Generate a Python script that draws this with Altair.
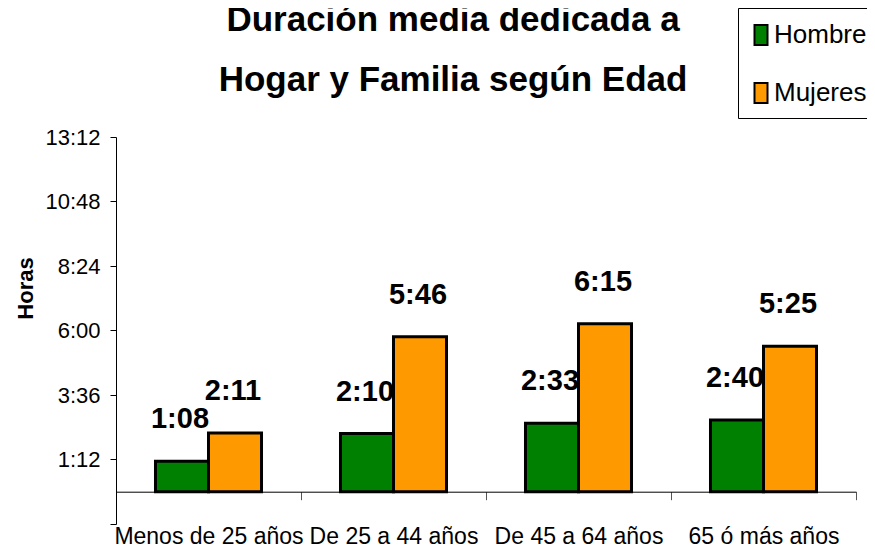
import altair as alt
import pandas as pd

categorias = ["Menos de 25 años", "De 25 a 44 años", "De 45 a 64 años", "65 ó más años"]
sexos = ["Hombres", "Mujeres"]
hombres_min = [68, 130, 153, 160]
mujeres_min = [131, 346, 375, 325]
y_ticks = [-1.2, 1.2, 3.6, 6.0, 8.4, 10.8, 13.2]
colores = ["#008000", "#FF9900"]
titulo = ["Duración media dedicada a", "Hogar y Familia según Edad"]

rows = []
for cat, h, m in zip(categorias, hombres_min, mujeres_min):
    for sexo, mins in (("Hombres", h), ("Mujeres", m)):
        rows.append({"edad": cat, "sexo": sexo, "horas": mins / 60,
                     "etiqueta": f"{mins // 60}:{mins % 60:02d}"})
df = pd.DataFrame(rows)

ARIAL = "Liberation Sans, Arial, sans-serif"

label_expr = ("datum.value < 0 ? '' : floor(datum.value) + ':' + "
              "(round((datum.value - floor(datum.value)) * 60) < 10 ? '0' : '') + "
              "round((datum.value - floor(datum.value)) * 60)")

base = alt.Chart(df).encode(
    x=alt.X("edad:N", sort=categorias, title=None,
            scale=alt.Scale(paddingInner=0, paddingOuter=0),
            axis=alt.Axis(orient="bottom", offset=-32.3, tickBand="extent", tickSize=8,
                          domainColor="black", tickColor="#555555", labelAngle=0,
                          labelFont=ARIAL, labelFontSize=23, labelColor="black",
                          labelPadding=26, labelLimit=0, grid=False)),
    xOffset=alt.XOffset("sexo:N", sort=sexos,
                        scale=alt.Scale(paddingInner=0, paddingOuter=0.745)),
    y=alt.Y("horas:Q", title="Horas",
            scale=alt.Scale(domain=[-1.2, 13.2], nice=False, zero=False),
            axis=alt.Axis(values=y_ticks, labelExpr=label_expr, grid=False,
                          domainColor="black", tickColor="black", tickSize=6,
                          labelFont=ARIAL, labelFontSize=22, labelColor="black",
                          labelPadding=10, titleFont=ARIAL, titleFontSize=22,
                          titleFontWeight="bold", titleColor="black",
                          titleX=-91, titleY=151, titleAlign="center",
                          titleBaseline="middle", titleAngle=270)),
)

bars = base.mark_bar(stroke="black", strokeWidth=3).encode(
    y2=alt.datum(0),
    color=alt.Color("sexo:N", title=" ",
                    scale=alt.Scale(domain=sexos, range=colores),
                    legend=alt.Legend(orient="none", legendX=622, legendY=-129,
                                      strokeColor="black", fillColor="white",
                                      padding=10, titleFontSize=1, titlePadding=3,
                                      symbolType="M-1,-1.54H1V1.54H-1Z",
                                      symbolSize=169, symbolStrokeColor="black",
                                      symbolStrokeWidth=2, symbolOpacity=1,
                                      labelFont=ARIAL, labelFontSize=26,
                                      labelColor="black", labelOffset=0,
                                      rowPadding=28, labelLimit=0)),
)

labels = base.mark_text(baseline="alphabetic", dy=-33, dx=-2, font=ARIAL,
                        fontSize=29, fontWeight="bold", color="black").encode(
    text="etiqueta:N"
)

chart = alt.layer(bars, labels).properties(
    width=740,
    height=387,
    padding={"left": 108, "top": 129, "right": 11, "bottom": 30},
    autosize=alt.AutoSizeParams(type="none"),
    title=alt.TitleParams(text=titulo, font=ARIAL, fontSize=35, fontWeight="bold",
                          color="black", lineHeight=60, anchor="middle",
                          frame="group", dx=-33, dy=94),
).configure_view(stroke="transparent")

chart.save("out.html", embed_options={"renderer": "svg", "actions": False})
